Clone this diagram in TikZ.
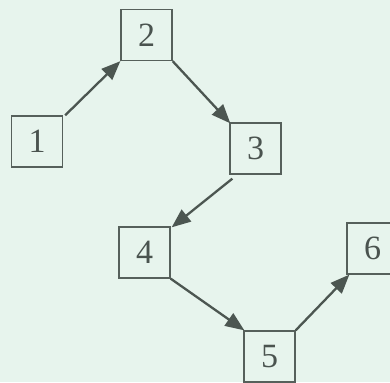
\documentclass[tikz,border=0pt]{standalone}
\usepackage{fontspec}
\setmainfont{Liberation Serif}
\usepackage{tikz}
\usepackage{xcolor}
\usetikzlibrary{arrows.meta}

\definecolor{bgmint}{HTML}{E7F4ED}
\definecolor{boxline}{HTML}{56605B}
\definecolor{arrowline}{HTML}{4C5651}
\definecolor{digit}{HTML}{4A534F}

\begin{document}
\begin{tikzpicture}[x=1pt, y=-1pt,
    stepbox/.style={draw=boxline, line width=1.3pt, minimum size=51pt, inner sep=0pt,
        text=digit, font=\fontsize{34}{34}\selectfont},
    link/.style={draw=arrowline, line width=2.3pt, -{Triangle[length=19pt, width=15pt]}}]
    % background
    \fill[bgmint] (0,0) rectangle (390,382);
    \clip (0,0) rectangle (390,382);
    \useasboundingbox (0,0) rectangle (390,382);

    % boxes
    \node[stepbox] (n1) at (37,141.5) {1};
    \node[stepbox] (n2) at (146.5,35) {2};
    \node[stepbox] (n3) at (255.5,148.5) {3};
    \node[stepbox] (n4) at (144.5,252.5) {4};
    \node[stepbox] (n5) at (269.5,356.5) {5};
    \node[stepbox] (n6) at (372.5,248.5) {6};

    % arrows
    \draw[link] ([shift={(2,0)}]n1.north east) -- (n2.south west);
    \draw[link] (n2.south east) -- ([shift={(1,1)}]n3.north west);
    \draw[link] ([shift={(3,4)}]n3.south west) -- ([shift={(1,1)}]n4.north east);
    \draw[link] (n4.south east) -- ([shift={(1,0)}]n5.north west);
    \draw[link] (n5.north east) -- ([shift={(3,0)}]n6.south west);
\end{tikzpicture}
\end{document}
